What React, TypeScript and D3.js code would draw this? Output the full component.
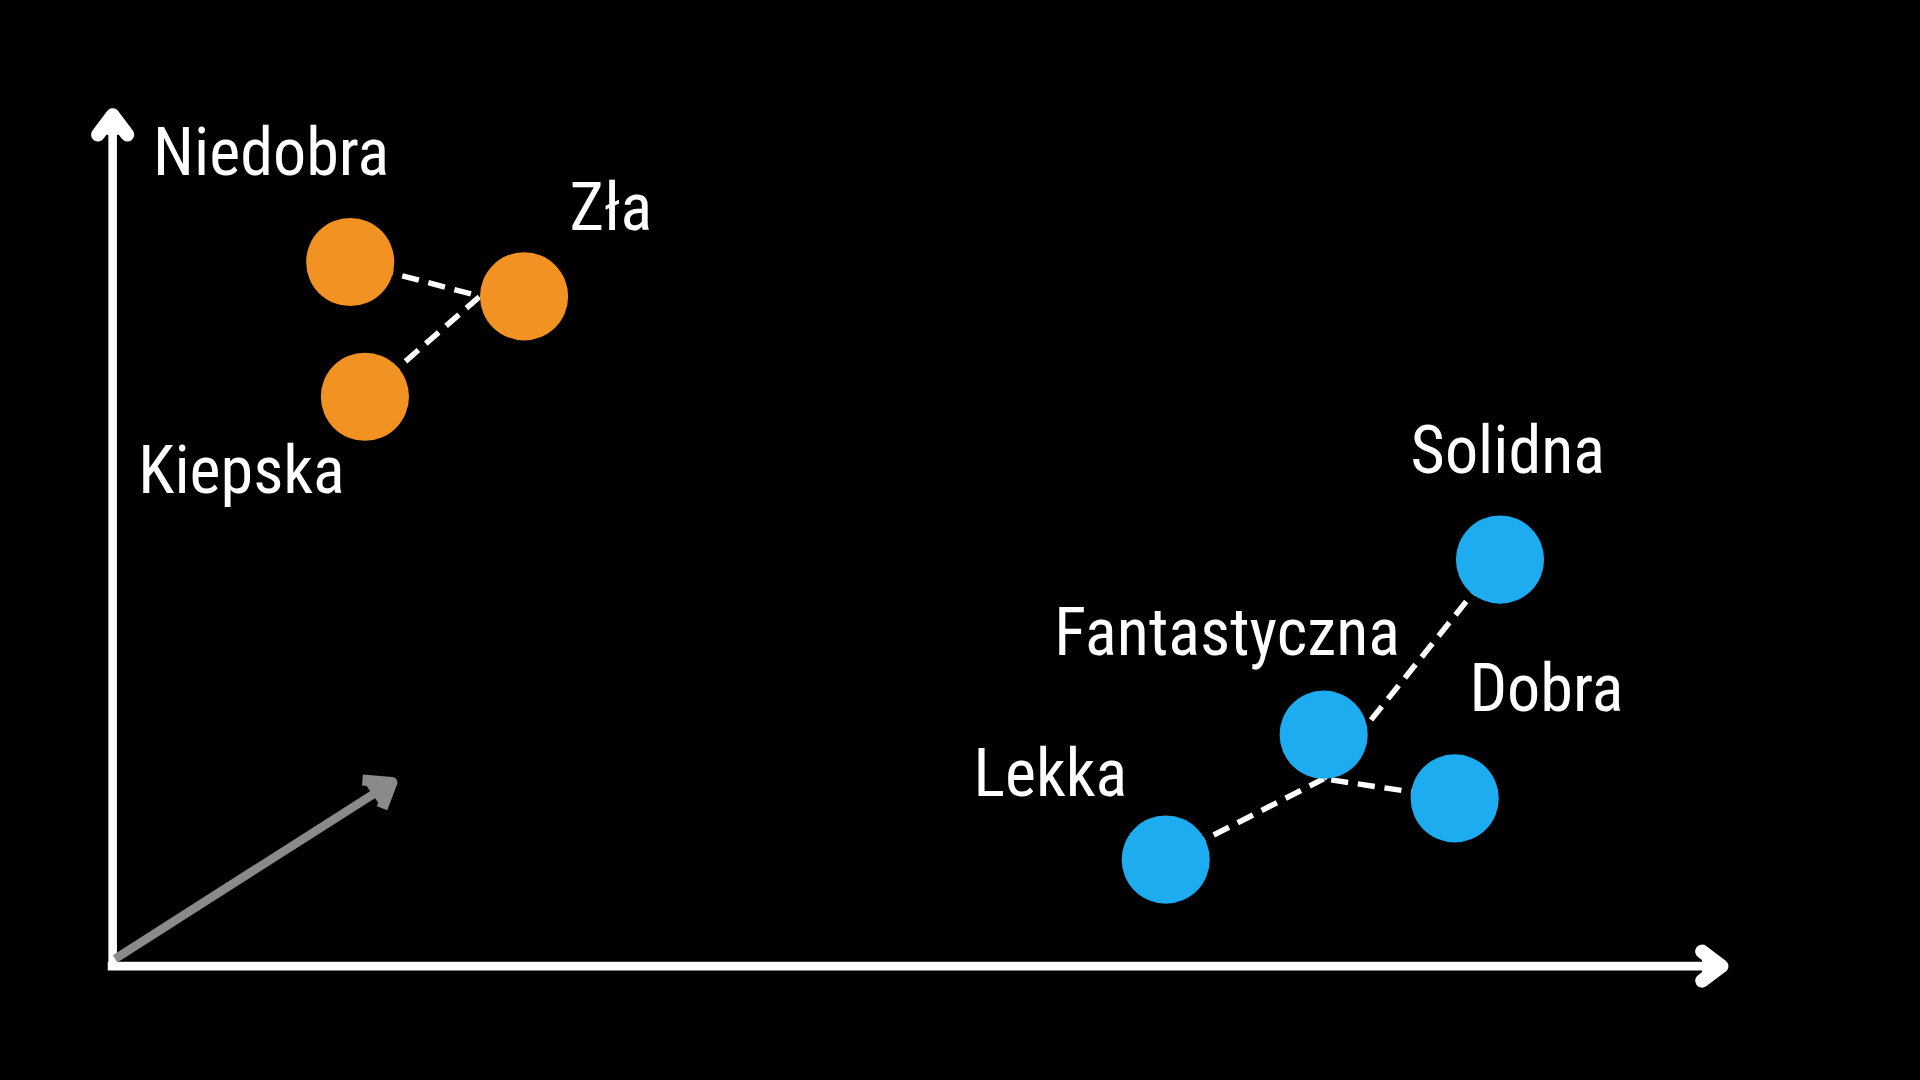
import React from "react";
import * as d3 from "d3";

const orangeNames = ["Niedobra", "Zła", "Kiepska"];
const orangeX = [286, 428, 298];
const orangeY = [214, 242, 324];
const blueNames = ["Solidna", "Fantastyczna", "Dobra", "Lekka"];
const blueX = [1225, 1081, 1188, 952];
const blueY = [457, 600, 652, 702];
const labelNames = ["Niedobra", "Zła", "Kiepska", "Solidna", "Fantastyczna", "Dobra", "Lekka"];
const labelX = [125, 465, 113, 1152, 861, 1200, 795];
const labelY = [143, 188, 403, 386, 535, 581, 650];

export default function App() {
  const W = 1920, H = 1080;
  const sx = d3.scaleLinear().domain([0, 1568]).range([0, W]);
  const sy = d3.scaleLinear().domain([0, 882]).range([0, H]);
  const k = W / 1568;
  const r = 36 * k;
  const line = d3.line<[number, number]>().x(d => sx(d[0])).y(d => sy(d[1]));
  const oJ: [number, number] = [orangeX[1] - 36, orangeY[1]];
  const bJ: [number, number] = [blueX[1], blueY[1] + 36];
  const segs: [number, number][][] = [
    [[orangeX[0], orangeY[0]], oJ],
    [[orangeX[2], orangeY[2]], oJ],
    [[blueX[0], blueY[0]], bJ],
    [[blueX[2], blueY[2]], bJ],
    [[blueX[3], blueY[3]], bJ],
  ];
  const sw = 7 * k;
  return (
    <svg width={W} height={H} style={{ position: "absolute", left: 0, top: 0, background: "#000" }}>
      <rect width={W} height={H} fill="#000" />
      <path d={line([[92, 786], [92, 96]])!} stroke="#fff" strokeWidth={sw} fill="none" />
      <path d={line([[80, 110], [92, 94], [104, 110]])!} stroke="#fff" strokeWidth={sw * 1.6} fill="#fff" strokeLinejoin="round" strokeLinecap="round" />
      <path d={line([[88, 789], [1402, 789]])!} stroke="#fff" strokeWidth={sw} fill="none" />
      <path d={line([[1390, 777], [1406, 789], [1390, 801]])!} stroke="#fff" strokeWidth={sw * 1.6} fill="#fff" strokeLinejoin="round" strokeLinecap="round" />
      <path d={line([[94, 783], [312, 644]])!} stroke="#8a8a8a" strokeWidth={sw} fill="none" />
      <path d={line([[296, 637], [320, 639], [312, 660]])!} stroke="#8a8a8a" strokeWidth={sw * 1.3} fill="#8a8a8a" strokeLinejoin="round" />
      {segs.map((s, i) => (
        <path key={i} d={line(s)!} stroke="#fff" strokeWidth={4.5 * k} strokeDasharray={`${14 * k} ${8 * k}`} fill="none" />
      ))}
      {orangeX.map((x, i) => (
        <circle key={orangeNames[i]} cx={sx(x)} cy={sy(orangeY[i])} r={r} fill="#F29222" />
      ))}
      {blueX.map((x, i) => (
        <circle key={blueNames[i]} cx={sx(x)} cy={sy(blueY[i])} r={r} fill="#1DACF0" />
      ))}
      {labelNames.map((t, i) => (
        <text key={t} x={sx(labelX[i])} y={sy(labelY[i])} fill="#fff" fontSize={54 * k}
          fontFamily="'Liberation Sans Narrow', 'Roboto Condensed', 'DejaVu Sans Condensed', sans-serif">{t}</text>
      ))}
    </svg>
  );
}
